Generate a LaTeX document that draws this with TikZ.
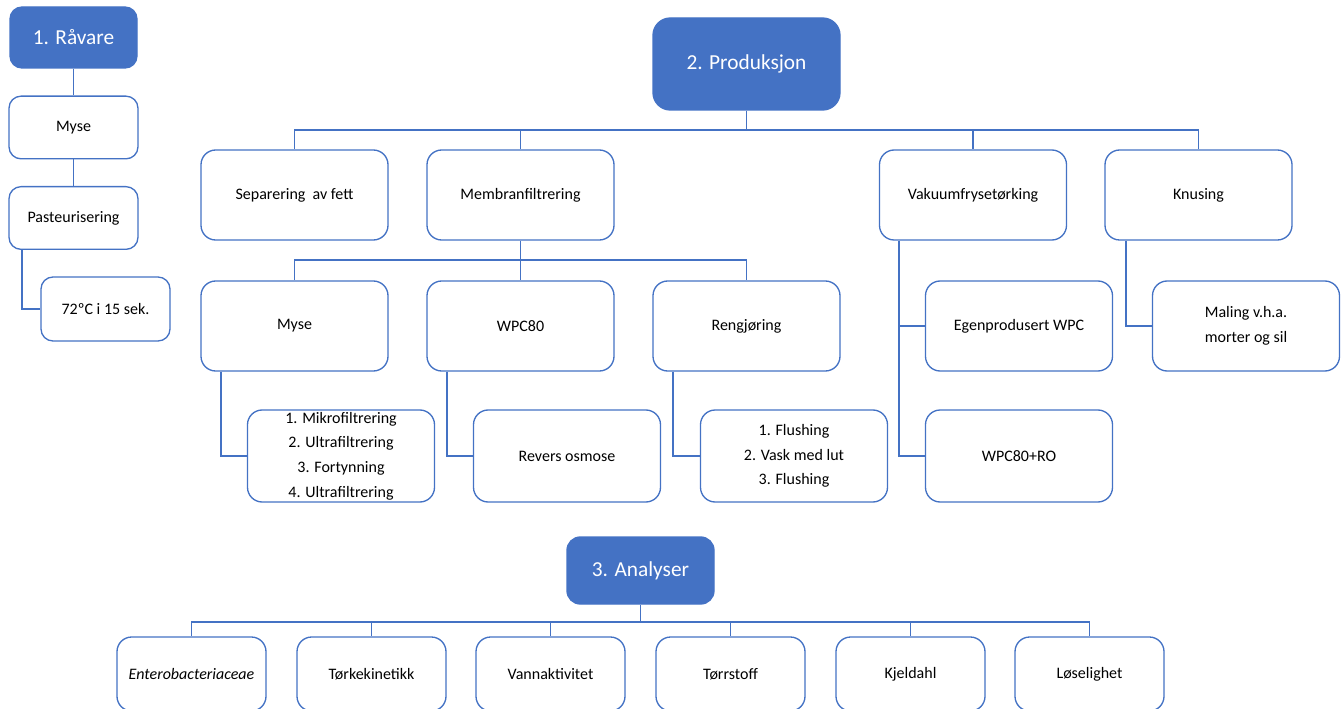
\documentclass[tikz,border=0pt]{standalone}
\usepackage{fontspec}
\setmainfont{Carlito}
\usepackage{tikz}
\definecolor{officeblue}{HTML}{4472C4}
\usetikzlibrary{positioning}
\usetikzlibrary{calc}

\begin{document}
\begin{tikzpicture}
    [
    x=0.75pt, y=-0.75pt,
    boks/.style={draw=officeblue, line width=1pt, fill=white, rounded corners=11pt,
        inner sep=0pt, minimum width=140.25pt, minimum height=67.5pt, align=center,
        font=\fontsize{12}{18.5}\selectfont, text=black},
    smal/.style={boks, minimum width=96.75pt, minimum height=47pt, rounded corners=9pt},
    analyse/.style={boks, minimum width=111.75pt, minimum height=55.5pt},
    tittel/.style={boks, fill=officeblue, text=white, font=\fontsize{16}{19}\selectfont},
    link/.style={draw=officeblue, line width=1pt}
    ]

    %Rammen
    \useasboundingbox (0,0) rectangle (1342,709);

    %1. Råvare
    \node[tittel, minimum width=95.25pt, minimum height=45.75pt, rounded corners=9pt] (raavare) at (73.5,37.5) {1. Råvare};
    \node[smal] (myseA) at (73.5,127.5) {Myse};
    \node[smal] (past) at (73.5,218) {Pasteurisering};
    \node[smal, minimum height=48pt] (temp) at (105.5,309) {72ºC i 15 sek.};

    \draw[link] (raavare) -- (myseA);
    \draw[link] (myseA) -- (past);
    \draw[link] (past.south -| 22,0) |- (temp.west);

    %2. Produksjon
    \node[tittel, minimum height=69pt, rounded corners=13pt] (prod) at (746.5,64) {2. Produksjon};

    \node[boks] (sep) at (294.5,195) {Separering\ \ av fett};
    \node[boks] (memb) at (520.5,195) {Membranfiltrering};
    \node[boks] (vakuum) at (973,195) {Vakuumfrysetørking};
    \node[boks] (knus) at (1198.5,195) {Knusing};

    \coordinate (bus) at (746.5,130);
    \draw[link] (prod.south) -- (bus);
    \foreach \barn in {sep,memb,vakuum,knus}
    \draw[link] (bus) -| (\barn.north);

    %Membranfiltrering
    \node[boks] (myseB) at (294.5,326) {Myse};
    \node[boks] (wpc) at (520.5,326) {WPC80};
    \node[boks] (reng) at (746.5,326) {Rengjøring};

    \coordinate (membbus) at (520.5,260);
    \draw[link] (memb.south) -- (membbus);
    \foreach \barn in {myseB,wpc,reng}
    \draw[link] (membbus) -| (\barn.north);

    \node[boks, minimum height=69pt] (mikro) at (341,456) {1. Mikrofiltrering\\2. Ultrafiltrering\\3. Fortynning\\4. Ultrafiltrering};
    \node[boks, minimum height=69pt] (revers) at (567,456) {Revers osmose};
    \node[boks, minimum height=69pt] (flush) at (794,456) {1. Flushing\\2. Vask med lut\\3. Flushing};

    \draw[link] (myseB.south -| 221,0) |- (mikro.west);
    \draw[link] (wpc.south -| 447,0) |- (revers.west);
    \draw[link] (reng.south -| 673,0) |- (flush.west);

    %Vakuumfrysetørking og Knusing
    \node[boks] (egen) at (1019,326) {Egenprodusert WPC};
    \node[boks, minimum height=69pt] (wpcro) at (1019,456) {WPC80+RO};
    \node[boks] (maling) at (1246,326) {Maling v.h.a.\\morter og sil};

    \draw[link] (vakuum.south -| 899,0) |- (wpcro.west);
    \draw[link] (egen.west -| 899,0) -- (egen.west);
    \draw[link] (knus.south -| 1126,0) |- (maling.west);

    %3. Analyser
    \node[tittel, minimum width=110.25pt, minimum height=50.25pt, rounded corners=10pt] (analyse) at (640.5,570.5) {3. Analyser};

    \node[analyse] (entero) at (191.5,674) {\textit{Enterobacteriaceae}};
    \node[analyse] (torke) at (371.5,674) {Tørkekinetikk};
    \node[analyse] (vann) at (550.5,674) {Vannaktivitet};
    \node[analyse] (torr) at (730.5,674) {Tørrstoff};
    \node[analyse] (kjel) at (910.5,674) {Kjeldahl};
    \node[analyse] (los) at (1089.5,674) {Løselighet};

    \coordinate (anbus) at (640.5,622);
    \draw[link] (analyse.south) -- (anbus);
    \foreach \barn in {entero,torke,vann,torr,kjel,los}
    \draw[link] (anbus) -| (\barn.north);
\end{tikzpicture}
\end{document}
